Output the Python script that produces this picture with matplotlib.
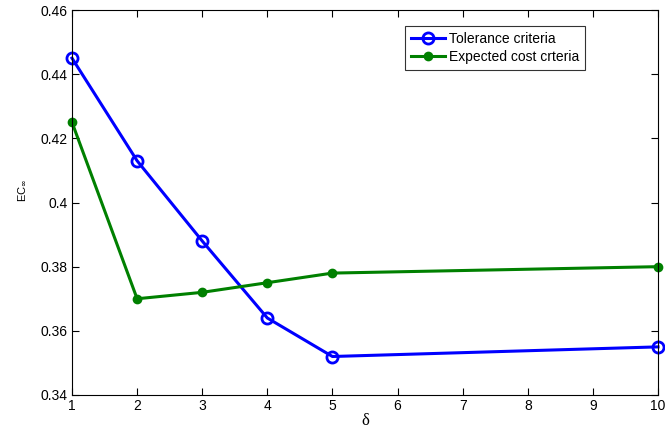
import matplotlib
matplotlib.use("Agg")
import matplotlib.pyplot as plt

x = [1, 2, 3, 4, 5, 10]
tolerance = [0.445, 0.413, 0.388, 0.364, 0.352, 0.355]
expected = [0.425, 0.370, 0.372, 0.375, 0.378, 0.380]
xticks = [1, 2, 3, 4, 5, 6, 7, 8, 9, 10]
yticks = [0.34, 0.36, 0.38, 0.40, 0.42, 0.44, 0.46]
ytick_labels = ["0.34", "0.36", "0.38", "0.4", "0.42", "0.44", "0.46"]

plt.rcParams['font.family'] = ['Liberation Sans', 'DejaVu Sans']
fig = plt.figure(figsize=(6.65, 4.29), dpi=100)
W, H = 665, 429
l, r, t, b = 72, 658, 10, 395
ax = fig.add_axes([l / W, 1 - b / H, (r - l) / W, (b - t) / H])

ax.plot(x, tolerance, color='#0000ff', lw=2.2, marker='o', ms=8, mfc='none', mew=2,
        label='Tolerance criteria')
ax.plot(x, expected, color='#008000', lw=2.2, marker='o', ms=5.5, mfc='#008000', mew=1.5,
        label='Expected cost crteria')
for ln in ax.lines:
    ln.set_clip_on(False)

ax.set_xlim(1, 10)
ax.set_ylim(0.34, 0.46)
ax.set_xticks(xticks)
ax.set_yticks(yticks)
ax.set_yticklabels(ytick_labels)
ax.tick_params(direction='in', top=True, right=True, labelsize=10, length=5, width=0.8, pad=3)
for s in ax.spines.values():
    s.set_linewidth(0.8)

ax.set_xlabel('δ', fontsize=12, family=['Liberation Serif', 'DejaVu Serif'], labelpad=0)
fig.text(22 / W, 1 - 190 / H, 'EC$_\\infty$', fontsize=8, rotation=90, ha='center', va='center')

leg = ax.legend(loc='upper left', bbox_to_anchor=((405 - l) / (r - l), 1 - (26 - t) / (b - t)),
                fontsize=10, frameon=True, fancybox=False, edgecolor='black',
                borderpad=0.45, handlelength=2.4, handletextpad=0.3, labelspacing=0.25,
                borderaxespad=0)
leg.get_frame().set_linewidth(0.8)

fig.savefig('out.png', dpi=100)
